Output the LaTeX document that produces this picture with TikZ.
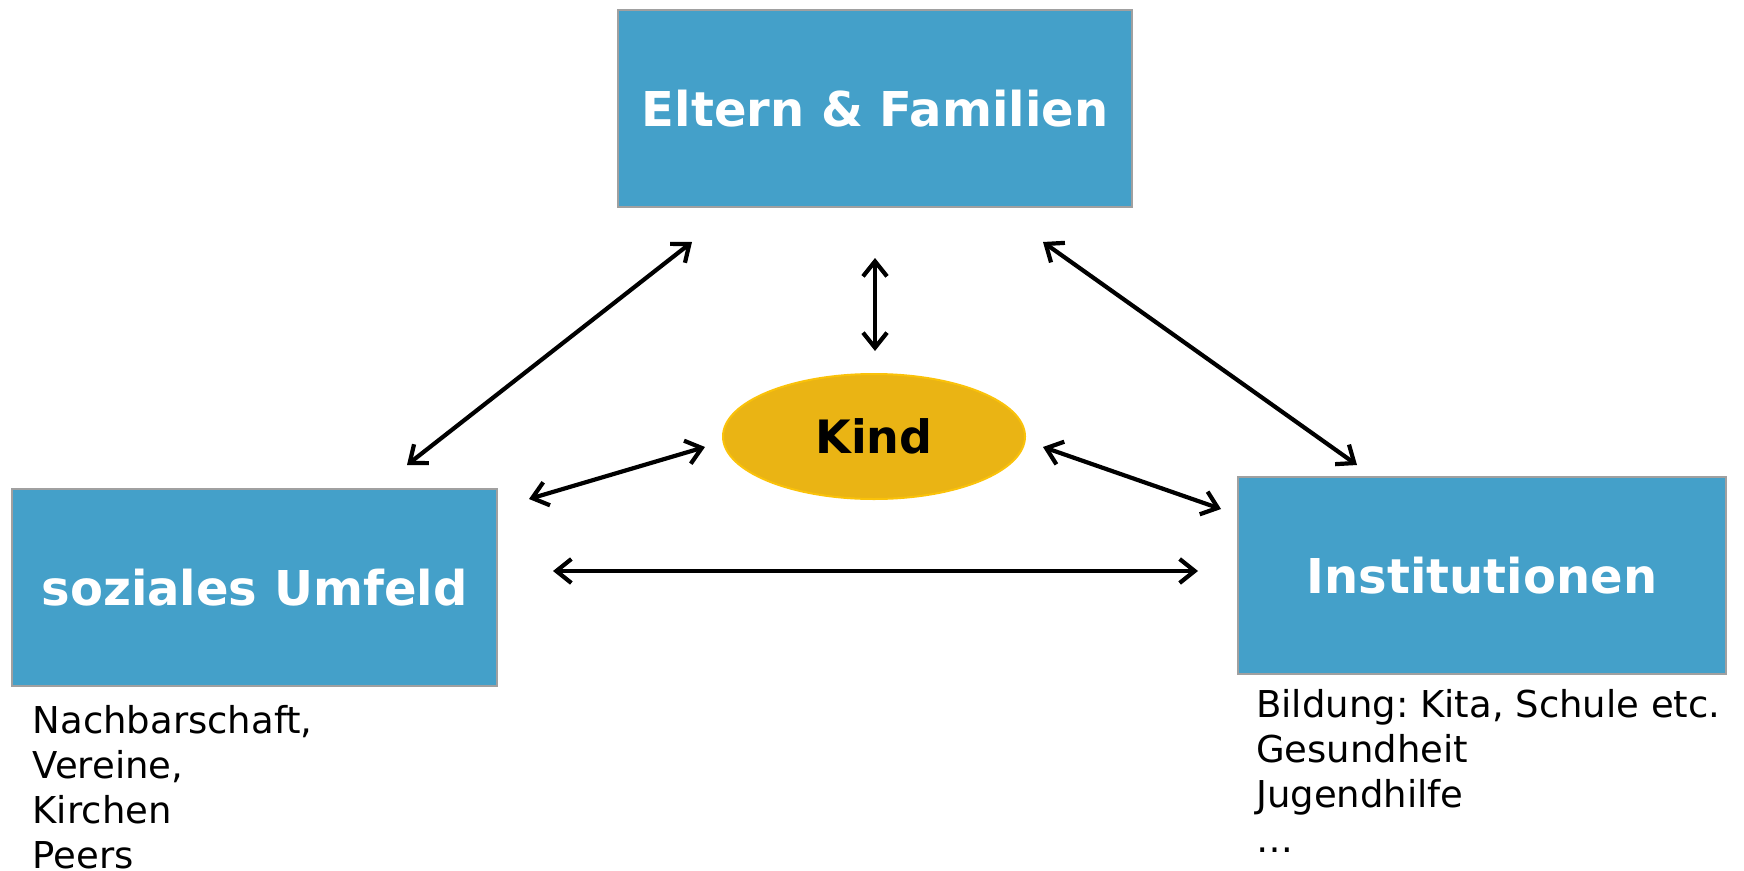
\documentclass[tikz,border=0pt]{standalone}
\usepackage{fontspec}
\setmainfont{DejaVu Sans}
\usetikzlibrary{shapes.geometric,arrows.meta}
\frenchspacing

\definecolor{boxblue}{RGB}{68,160,201}
\definecolor{boxline}{RGB}{160,160,160}
\definecolor{kindfill}{RGB}{234,180,20}
\definecolor{kindline}{RGB}{250,194,10}

\tikzset{
  area/.style={rectangle, draw=boxline, line width=2pt, fill=boxblue,
    inner sep=0pt, text=white, font=\bfseries\fontsize{48}{57}\selectfont},
  kindnode/.style={ellipse, draw=kindline, line width=2pt, fill=kindfill,
    inner sep=0pt, minimum width=302pt, minimum height=125pt,
    font=\bfseries\fontsize{46}{55}\selectfont},
  notes/.style={anchor=north west, inner sep=0pt, align=left,
    font=\fontsize{37}{45}\selectfont},
  link/.style={line width=4.2pt, {Straight Barb[length=15pt,width=24pt]}-{Straight Barb[length=15pt,width=24pt]}}
}

\begin{document}
\begin{tikzpicture}[x=1pt,y=-1pt]
  \useasboundingbox (0,0) rectangle (1744,870);

  % the three surrounding areas
  \node[area, minimum width=514pt, minimum height=197pt] (eltern) at (875,108.5) {Eltern \& Familien};
  \node[area, minimum width=485pt, minimum height=197pt] (umfeld) at (254.5,587.5) {soziales Umfeld};
  \node[area, minimum width=488pt, minimum height=197pt] (inst) at (1482,575.5) {Institutionen};

  % the child in the middle
  \node[kindnode] (kind) at (874,436.5) {Kind};

  % examples listed under the boxes
  \node[notes] (umfeldlist) at (32.5,705) {Nachbarschaft,\\Vereine,\\Kirchen\\Peers};
  \node[notes] (instlist) at (1256,689) {Bildung: Kita, Schule etc.\\Gesundheit\\Jugendhilfe\\\dots};

  % ends of the double-headed connectors
  \coordinate (eu) at (692,242);
  \coordinate (ue) at (407,465);
  \coordinate (ek) at (875,258);
  \coordinate (ke) at (875,351);
  \coordinate (ei) at (1043,242);
  \coordinate (ie) at (1357,465);
  \coordinate (uk) at (529,499);
  \coordinate (ku) at (705,447);
  \coordinate (ki) at (1043,447);
  \coordinate (ik) at (1221,509);
  \coordinate (ui) at (553,571);
  \coordinate (iu) at (1198,571);

  \draw[link] (ue) -- (eu);
  \draw[link] (ek) -- (ke);
  \draw[link] (ei) -- (ie);
  \draw[link] (uk) -- (ku);
  \draw[link] (ki) -- (ik);
  \draw[link] (ui) -- (iu);
\end{tikzpicture}
\end{document}
